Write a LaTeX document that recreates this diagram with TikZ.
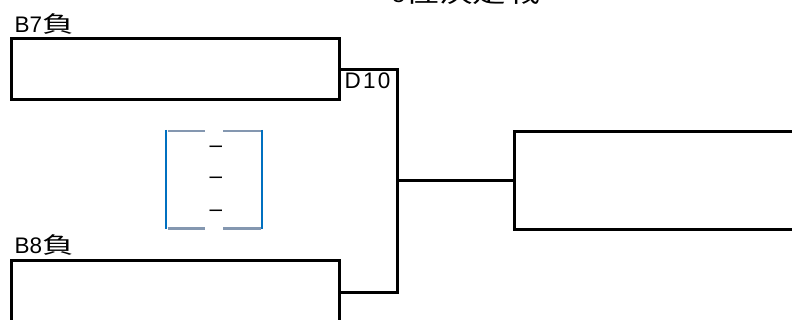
\documentclass[tikz,border=0pt]{standalone}
\usepackage{fontspec}
\setmainfont{Liberation Sans}
\newfontfamily\jpfont{Noto Sans CJK JP}
\newcommand{\jp}[1]{{\jpfont\scalebox{1.4}[1]{#1}}}
\definecolor{bracketblue}{HTML}{0070C0}
\definecolor{bracketgray}{HTML}{8497B0}
\begin{document}
\begin{tikzpicture}[x=1pt,y=-1pt,
  box/.style={draw=black,line width=3pt,rectangle,inner sep=0pt},
  wire/.style={draw=black,line width=3pt},
  lbl/.style={inner sep=0pt,font=\fontsize{22.5}{24}\selectfont},
  bv/.style={draw=bracketblue,line width=2.7pt},
  bh/.style={draw=bracketgray,line width=2.7pt}]
\useasboundingbox (0,0) rectangle (792,320);
% title (cut at top)
\node[inner sep=0pt,anchor=base,font=\fontsize{24}{26}\selectfont] (title) at (466,3) {5\jp{位決定戦}};
% boxes
\node[box,minimum width=328pt,minimum height=61pt] (box1) at (175,69.5) {};
\node[box,minimum width=328pt,minimum height=62pt] (box2) at (175,292) {};
\node[box,minimum width=310pt,minimum height=98pt,anchor=west] (box3) at (512.5,180.5) {};
% labels
\node[lbl,anchor=base west] (l1) at (14.5,33) {B7\jp{負}};
\node[lbl,anchor=base west] (l2) at (14.5,254) {B8\jp{負}};
\node[lbl,anchor=north west] (d10) at (344.5,73) {\addfontfeature{LetterSpace=10}D10};
% connectors
\coordinate (j) at (397.5,180.5);
\draw[wire] (box1.east) -| (j) |- (box2.east);
\draw[wire] (j) -- (box3.west);
% bracket
\draw[bv] (166,130) -- (166,229.5);
\draw[bv] (262,130) -- (262,229.5);
\draw[bh] (167.5,131) -- (205,131);
\draw[bh] (223,131) -- (260.5,131);
\draw[bh] (167.5,228.5) -- (205,228.5);
\draw[bh] (223,228.5) -- (260.5,228.5);
\node[lbl] (dash1) at (216,149) {–};
\node[lbl] (dash2) at (216,180) {–};
\node[lbl] (dash3) at (216,213) {–};
\end{tikzpicture}
\end{document}
